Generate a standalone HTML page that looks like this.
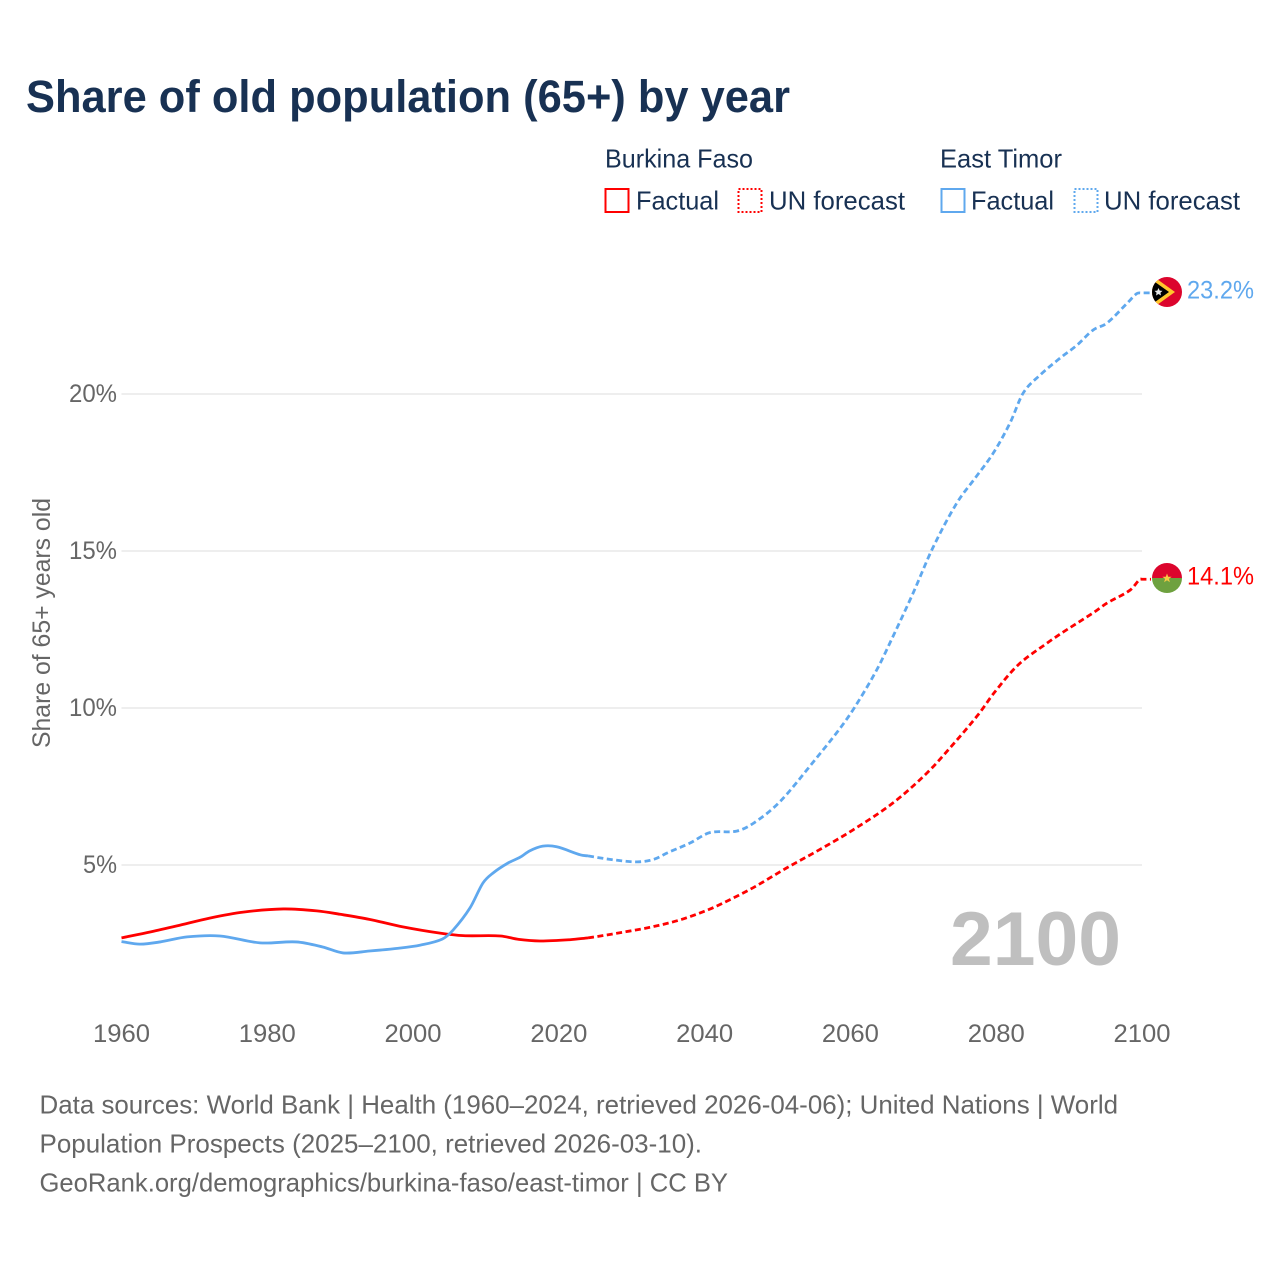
<!DOCTYPE html>
<html lang="en">
<head>
<meta charset="utf-8">
<title>Share of old population (65+) by year</title>
<style>
html,body{margin:0;padding:0;background:#fff;width:1280px;height:1280px;overflow:hidden}
svg{display:block}
text{font-family:"Liberation Sans",sans-serif}
</style>
</head>
<body>
<svg id="chart" xmlns="http://www.w3.org/2000/svg" width="1280" height="1280" viewBox="0 0 1280 1280">
  <rect width="1280" height="1280" fill="#fff"/>
  <text x="26" y="112" font-size="45" font-weight="700" fill="#183153" textLength="764" lengthAdjust="spacingAndGlyphs">Share of old population (65+) by year</text>

  <g>
    <text x="605" y="167.5" font-size="26" fill="#183153" textLength="148" lengthAdjust="spacingAndGlyphs">Burkina Faso</text>
    <text x="940" y="167.5" font-size="26" fill="#183153" textLength="122" lengthAdjust="spacingAndGlyphs">East Timor</text>
    <rect x="605.5" y="189" width="23" height="23" fill="none" stroke="#ff0000" stroke-width="2"/>
    <text x="636" y="209.5" font-size="26" fill="#183153" textLength="83" lengthAdjust="spacingAndGlyphs">Factual</text>
    <rect x="738.5" y="189" width="23" height="23" fill="none" stroke="#ff0000" stroke-width="2" stroke-dasharray="2 2"/>
    <text x="769" y="209.5" font-size="26" fill="#183153" textLength="136" lengthAdjust="spacingAndGlyphs">UN forecast</text>
    <rect x="941.5" y="189" width="23" height="23" fill="none" stroke="#5fa8ee" stroke-width="2"/>
    <text x="971" y="209.5" font-size="26" fill="#183153" textLength="83" lengthAdjust="spacingAndGlyphs">Factual</text>
    <rect x="1074.5" y="189" width="23" height="23" fill="none" stroke="#5fa8ee" stroke-width="2" stroke-dasharray="2 2"/>
    <text x="1104" y="209.5" font-size="26" fill="#183153" textLength="136" lengthAdjust="spacingAndGlyphs">UN forecast</text>
  </g>

  <g id="grid"></g>
  <g id="yticks"></g>
  <g id="xticks"></g>

  <text transform="translate(50,623) rotate(-90)" text-anchor="middle" font-size="25" fill="#666" textLength="250" lengthAdjust="spacingAndGlyphs">Share of 65+ years old</text>

  <text x="950" y="965" font-size="76" font-weight="700" fill="#bfbfbf" textLength="171" lengthAdjust="spacingAndGlyphs">2100</text>

  <g id="series"></g>

  <g id="flag-timor">
    <clipPath id="clip-timor"><circle cx="1167" cy="292" r="15"/></clipPath>
    <g clip-path="url(#clip-timor)">
      <rect x="1150" y="275" width="34" height="34" fill="#dc052d"/>
      <polygon points="1150,274 1175,292 1150,310" fill="#ffc72c"/>
      <polygon points="1150,278.5 1169,292 1150,305.5" fill="#000"/>
      <polygon points="1158.5,288 1159.7,290.6 1162.5,290.9 1160.4,292.7 1161,295.5 1158.5,294 1156,295.5 1156.6,292.7 1154.5,290.9 1157.3,290.6" fill="#e8e8e8"/>
    </g>
  </g>
  <g id="flag-burkina">
    <clipPath id="clip-bf"><circle cx="1167" cy="578" r="15"/></clipPath>
    <g clip-path="url(#clip-bf)">
      <rect x="1150" y="561" width="34" height="17" fill="#dc052d"/>
      <rect x="1150" y="578" width="34" height="17" fill="#6ea13f"/>
      <polygon points="1167,573.5 1168.2,576.8 1171.6,576.8 1168.9,578.9 1169.9,582.2 1167,580.2 1164.1,582.2 1165.1,578.9 1162.4,576.8 1165.8,576.8" fill="#f6c945"/>
    </g>
  </g>

  <text x="1187" y="298.5" font-size="25" fill="#5fa8ee" textLength="67" lengthAdjust="spacingAndGlyphs">23.2%</text>
  <text x="1187" y="584.5" font-size="25" fill="#ff0000" textLength="67" lengthAdjust="spacingAndGlyphs">14.1%</text>

  <g font-size="26" fill="#666">
    <text x="39.5" y="1113.5" textLength="1078.5" lengthAdjust="spacingAndGlyphs">Data sources: World Bank | Health (1960–2024, retrieved 2026-04-06); United Nations | World</text>
    <text x="39.5" y="1152.5" textLength="662.5" lengthAdjust="spacingAndGlyphs">Population Prospects (2025–2100, retrieved 2026-03-10).</text>
    <text x="39.5" y="1191.5" textLength="688.5" lengthAdjust="spacingAndGlyphs">GeoRank.org/demographics/burkina-faso/east-timor | CC BY</text>
  </g>
</svg>
<script>
const xTickYears = [1960, 1980, 2000, 2020, 2040, 2060, 2080, 2100];
const yTickValues = [5, 10, 15, 20];

const burkinaFactualYears = [1960, 1964, 1967.6, 1972.1, 1976.7, 1982.2, 1986.8, 1990, 1994, 1998.6, 2003.7, 2006.9, 2012, 2014.5, 2017.4, 2021.5, 2024];
const burkinaFactualValues = [2.68, 2.87, 3.06, 3.31, 3.5, 3.6, 3.54, 3.43, 3.27, 3.03, 2.83, 2.75, 2.74, 2.63, 2.58, 2.62, 2.68];
const burkinaForecastYears = [2024, 2025.2, 2029.8, 2033, 2036.6, 2040, 2042, 2046.6, 2051.2, 2055.7, 2060.3, 2065.8, 2070.5, 2074, 2077.5, 2079.8, 2083, 2087, 2089.2, 2093.3, 2095.2, 2098.4, 2099.7, 2100];
const burkinaForecastValues = [2.68, 2.72, 2.9, 3.04, 3.25, 3.53, 3.73, 4.27, 4.9, 5.48, 6.11, 6.97, 7.93, 8.82, 9.78, 10.51, 11.37, 12.07, 12.42, 13.03, 13.34, 13.76, 14.1, 14.1];

const timorFactualYears = [1960, 1962.5, 1965.3, 1969, 1973.5, 1979, 1984, 1987.6, 1990.4, 1994, 1998, 2001, 2004, 2005.5, 2007.8, 2009.6, 2011, 2013, 2014.7, 2016, 2017.8, 2019.7, 2023, 2024];
const timorFactualValues = [2.56, 2.48, 2.55, 2.71, 2.74, 2.52, 2.55, 2.39, 2.2, 2.26, 2.35, 2.45, 2.64, 2.93, 3.63, 4.43, 4.75, 5.06, 5.25, 5.45, 5.6, 5.58, 5.32, 5.29];
const timorForecastYears = [2024, 2027, 2030.7, 2033, 2035, 2038, 2040.7, 2044.4, 2046.7, 2050.3, 2054.9, 2058.6, 2060.6, 2063.6, 2065.8, 2068.6, 2071.3, 2074.6, 2077.1, 2079.6, 2081.9, 2083.7, 2086, 2088.8, 2091.1, 2093.3, 2095.2, 2098, 2099.3, 2100];
const timorForecastValues = [5.29, 5.18, 5.1, 5.18, 5.4, 5.7, 6.03, 6.08, 6.33, 7.01, 8.28, 9.36, 10.03, 11.21, 12.26, 13.66, 15.1, 16.53, 17.32, 18.12, 19.08, 20.03, 20.6, 21.15, 21.56, 22.04, 22.26, 22.9, 23.2, 23.22];

const RED = '#ff0000';
const BLUE = '#5fa8ee';
const NS = 'http://www.w3.org/2000/svg';

function xScale(year) { return 121.5 + (year - 1960) * (1142 - 121.5) / 140; }
function yScale(value) { return 1022 - value * 31.4; }

function linePath(years, values) {
  const pts = years.map((yr, i) => [xScale(yr), yScale(values[i])]);
  let d = 'M' + pts[0][0].toFixed(2) + ' ' + pts[0][1].toFixed(2);
  for (let i = 0; i < pts.length - 1; i++) {
    const p0 = pts[Math.max(i - 1, 0)], p1 = pts[i], p2 = pts[i + 1], p3 = pts[Math.min(i + 2, pts.length - 1)];
    const k1 = (p2[0] - p1[0]) / Math.max(p2[0] - p0[0], 0.01) / 3;
    const k2 = (p2[0] - p1[0]) / Math.max(p3[0] - p1[0], 0.01) / 3;
    const c1x = p1[0] + (p2[0] - p0[0]) * k1, c1y = p1[1] + (p2[1] - p0[1]) * k1;
    const c2x = p2[0] - (p3[0] - p1[0]) * k2, c2y = p2[1] - (p3[1] - p1[1]) * k2;
    d += 'C' + c1x.toFixed(2) + ' ' + c1y.toFixed(2) + ' ' + c2x.toFixed(2) + ' ' + c2y.toFixed(2) + ' ' + p2[0].toFixed(2) + ' ' + p2[1].toFixed(2);
  }
  return d;
}

const gridG = document.getElementById('grid');
const yTickG = document.getElementById('yticks');
const xTickG = document.getElementById('xticks');
const seriesG = document.getElementById('series');

yTickValues.forEach(function (v) {
  const ln = document.createElementNS(NS, 'line');
  
  
  ln.setAttribute('x1', xScale(1960));
  ln.setAttribute('x2', xScale(2100));
  ln.setAttribute('y1', yScale(v));
  ln.setAttribute('y2', yScale(v));
  ln.setAttribute('stroke', '#eeeeee');
  ln.setAttribute('stroke-width', '2');
  gridG.appendChild(ln);

  const t = document.createElementNS(NS, 'text');
  
  
  t.setAttribute('x', 117);
  t.setAttribute('y', yScale(v) + 8);
  t.setAttribute('text-anchor', 'end');
  t.setAttribute('font-size', '25');
  t.setAttribute('fill', '#666');
  t.setAttribute('textLength', v < 10 ? '34' : '48');
  t.setAttribute('lengthAdjust', 'spacingAndGlyphs');
  t.textContent = v + '%';
  yTickG.appendChild(t);
});

xTickYears.forEach(function (yr) {
  const t = document.createElementNS(NS, 'text');
  
  
  t.setAttribute('x', xScale(yr));
  t.setAttribute('y', 1042);
  t.setAttribute('text-anchor', 'middle');
  t.setAttribute('font-size', '25');
  t.setAttribute('fill', '#666');
  t.setAttribute('textLength', '57');
  t.setAttribute('lengthAdjust', 'spacingAndGlyphs');
  t.textContent = yr;
  xTickG.appendChild(t);
});

function addLine(name, years, values, color, dashed) {
  const p = document.createElementNS(NS, 'path');
  
  
  let d = linePath(years, values);
  if (dashed) {
    d += 'L' + (xScale(years[years.length - 1]) + 9) + ' ' + yScale(values[values.length - 1]).toFixed(2);
    p.setAttribute('stroke-dasharray', '6 3.5');
  }
  p.setAttribute('d', d);
  p.setAttribute('fill', 'none');
  p.setAttribute('stroke', color);
  p.setAttribute('stroke-width', '2.8');
  seriesG.appendChild(p);
}

addLine('burkina-factual-line', burkinaFactualYears, burkinaFactualValues, RED, false);
addLine('burkina-forecast-line', burkinaForecastYears, burkinaForecastValues, RED, true);
addLine('timor-factual-line', timorFactualYears, timorFactualValues, BLUE, false);
addLine('timor-forecast-line', timorForecastYears, timorForecastValues, BLUE, true);
</script>
</body>
</html>
